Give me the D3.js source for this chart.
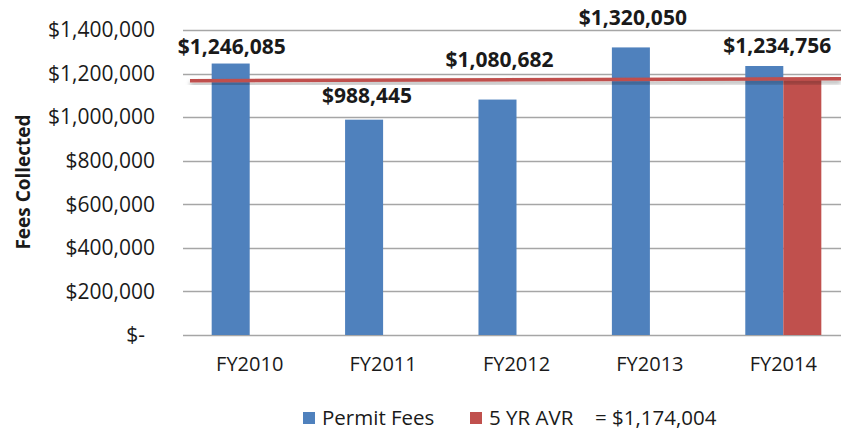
<!DOCTYPE html>
<html lang="en">
<head>
<meta charset="utf-8">
<title>Permit Fees Collected FY2010-FY2014</title>
<style>
  body { margin: 0; background: #fff; }
  #chart text { font-family: "Open Sans", sans-serif; fill: #1a1a1a; }
  .grid line { stroke: #a6a6a6; stroke-width: 1.3; }
  .axis-y text { font-size: 21px; }
  .axis-x text { font-size: 20px; }
  .value-label { font-size: 21px; font-weight: bold; }
  .legend text { font-size: 20.5px; }
</style>
</head>
<body>
<svg id="chart" width="841" height="431"></svg>
<script src="https://cdn.jsdelivr.net/npm/d3@7"></script>
<script>
// data
const years = ['FY2010', 'FY2011', 'FY2012', 'FY2013', 'FY2014'];
const permitFees = [1246085, 988445, 1080682, 1320050, 1234756];
const fiveYrAvr = [null, null, null, null, 1174004];
const avgValue = 1174004;
const seriesNames = ['Permit Fees', '5 YR AVR'];
const yTicks = [0, 200000, 400000, 600000, 800000, 1000000, 1200000, 1400000];

// labels were dragged around by hand in the original, so nudge them (px)
const labelNudge = [[1, -10], [3, -17], [2, -33], [2, -22], [13, -13]];

const colors = { 'Permit Fees': '#4f81bd', '5 YR AVR': '#c0504d' };

const svg = d3.select('#chart');
const W = 841;
const plotLeft = 183, plotRight = 850, plotTop = 30, plotBottom = 335;

const x = d3.scaleBand()
  .domain(years)
  .range([plotLeft, plotRight])
  .paddingInner(0.43)
  .paddingOuter(0.215);

const xs = d3.scaleBand()
  .domain(seriesNames)
  .range([0, x.bandwidth()]);

const y = d3.scaleLinear()
  .domain([0, 1400000])
  .range([plotBottom, plotTop]);

// shadow for the average line
const defs = svg.append('defs');
const f = defs.append('filter').attr('id', 'shadow')
  .attr('x', '-5%').attr('y', '-200%').attr('width', '110%').attr('height', '500%');
f.append('feDropShadow')
  .attr('dx', 0).attr('dy', 3).attr('stdDeviation', 2)
  .attr('flood-color', '#000').attr('flood-opacity', 0.35);

// gridlines
svg.append('g').attr('class', 'grid')
  .selectAll('line')
  .data(yTicks)
  .join('line')
  .attr('x1', plotLeft).attr('x2', W)
  .attr('y1', d => Math.round(y(d)) + 0.5)
  .attr('y2', d => Math.round(y(d)) + 0.5);

// y axis labels
const fmt = d3.format(',');
const yAxis = svg.append('g')
  .attr('class', 'axis-y')
  .attr('transform', `translate(${plotLeft},0)`)
  .call(d3.axisLeft(y).tickValues(yTicks).tickSize(0).tickPadding(28)
    .tickFormat(d => d === 0 ? '$-' : '$' + fmt(d)));
yAxis.select('.domain').remove();
yAxis.selectAll('text').filter(d => d === 0).attr('dx', -10);

// x axis labels
const xAxis = svg.append('g')
  .attr('class', 'axis-x')
  .attr('transform', `translate(0,${plotBottom})`)
  .call(d3.axisBottom(x).tickSize(0).tickPadding(22));
xAxis.select('.domain').remove();

// bars
const rows = years.map((yr, i) => ({
  year: yr,
  values: [
    { key: 'Permit Fees', value: permitFees[i] },
    { key: '5 YR AVR', value: fiveYrAvr[i] }
  ]
}));

svg.append('g')
  .selectAll('g')
  .data(rows)
  .join('g')
  .attr('transform', d => `translate(${x(d.year)},0)`)
  .selectAll('rect')
  .data(d => d.values.filter(v => v.value != null))
  .join('rect')
  .attr('x', d => xs(d.key))
  .attr('width', xs.bandwidth())
  .attr('y', d => y(d.value))
  .attr('height', d => y(0) - y(d.value))
  .attr('fill', d => colors[d.key]);

// average line drawn over the bars
svg.append('line')
  .attr('x1', 190).attr('x2', W)
  .attr('y1', y(avgValue) + 1.5).attr('y2', y(avgValue) - 0.5)
  .attr('stroke', '#c0504d')
  .attr('stroke-width', 3.5)
  .attr('filter', 'url(#shadow)');

// value labels
svg.append('g')
  .selectAll('text')
  .data(permitFees)
  .join('text')
  .attr('class', 'value-label')
  .attr('text-anchor', 'middle')
  .attr('x', (d, i) => x(years[i]) + xs('Permit Fees') + xs.bandwidth() / 2 + labelNudge[i][0])
  .attr('y', (d, i) => y(d) + labelNudge[i][1])
  .text(d => '$' + fmt(d));

// y title
svg.append('text')
  .attr('transform', 'translate(30,182) rotate(-90)')
  .attr('text-anchor', 'middle')
  .style('font-size', '19px')
  .style('font-weight', 'bold')
  .text('Fees Collected');

// legend
const legend = svg.append('g').attr('class', 'legend');
const legendItems = [
  { key: 'Permit Fees', x: 303, label: 'Permit Fees' },
  { key: '5 YR AVR', x: 470, label: '5 YR AVR' }
];
legend.selectAll('rect')
  .data(legendItems)
  .join('rect')
  .attr('x', d => d.x).attr('y', 412)
  .attr('width', 12).attr('height', 12)
  .attr('fill', d => colors[d.key]);
legend.selectAll('text.item')
  .data(legendItems)
  .join('text')
  .attr('class', 'item')
  .attr('x', d => d.x + 19).attr('y', 425)
  .text(d => d.label);
legend.append('text')
  .attr('x', 595).attr('y', 425)
  .text('= $' + fmt(avgValue));
</script>
</body>
</html>
